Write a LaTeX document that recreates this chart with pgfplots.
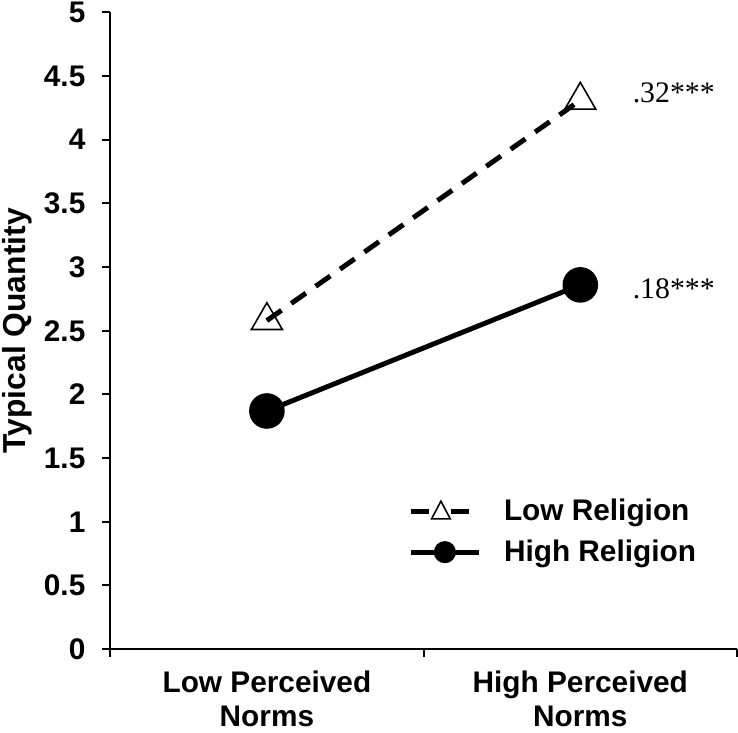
\documentclass[border=0pt]{standalone}
\usepackage{pgfplots}
\pgfplotsset{compat=1.18}
\usepackage{fontspec}
\setmainfont{Liberation Sans}
\newfontfamily\timesfont{Liberation Serif}
\begin{document}
\begin{tikzpicture}
\begin{axis}[
  scale only axis, width=315.5pt, height=320.5pt,
  xmin=0, xmax=2, ymin=0, ymax=5,
  axis lines*=left,
  axis line style={line width=1pt},
  tick align=outside, major tick length=4pt,
  tick style={line width=1pt, black},
  xtick={0,1,2}, xticklabels={},
  extra x ticks={0.5,1.5},
  extra x tick labels={Low Perceived\\Norms, High Perceived\\Norms},
  extra x tick style={major tick length=0pt},
  xticklabel style={align=center, font=\fontsize{15}{17}\selectfont\bfseries, inner xsep=0pt, inner ysep=3pt, yshift=-8pt},
  ytick={0,0.5,1,1.5,2,2.5,3,3.5,4,4.5,5},
  yticklabel style={font=\fontsize{15}{17}\selectfont\bfseries, inner sep=1pt, xshift=-7.3pt},
  /pgf/number format/assume math mode=true,
  ylabel={Typical Quantity},
  ylabel style={font=\fontsize{16}{18}\selectfont\bfseries, inner ysep=1pt},
  ylabel shift=4pt,
  clip=false,
  legend style={at={(0.4755,0.242)}, anchor=north west, draw=none, fill=none,
    font=\fontsize{15}{18}\selectfont\bfseries, row sep=4pt, inner sep=0pt},
  legend cell align=left,
]
\addplot[black, line width=2.5pt, dash pattern=on 9pt off 6pt,
  mark=triangle, mark size=9pt, mark options={solid, line width=0.8pt, fill=none},
  legend image code/.code={
    \draw[line width=2.5pt] (0pt,0pt)--(10.5pt,0pt) (20pt,0pt)--(29.5pt,0pt);
    \draw[solid, line width=0.8pt, fill=white] (15pt,5.3pt)--(10.3pt,-3.6pt)--(19.7pt,-3.6pt)--cycle;
  }]
  coordinates {(0.5,2.58) (1.5,4.31)};
\addlegendentry{\hspace{9.5pt}Low Religion}
\addplot[black, line width=2.5pt, solid,
  mark=*, mark size=7.7pt,
  legend image code/.code={
    \draw[line width=2.5pt] (0pt,0pt)--(34pt,0pt);
    \fill (17pt,0pt) circle (4.3pt);
  }]
  coordinates {(0.5,1.87) (1.5,2.86)};
\addlegendentry{\hspace{9.5pt}High Religion}
\node[anchor=west, font=\fontsize{15}{17}\selectfont\timesfont] at (axis cs:1.645,4.37) {.32***};
\node[anchor=west, font=\fontsize{15}{17}\selectfont\timesfont] at (axis cs:1.645,2.83) {.18***};
\end{axis}
\end{tikzpicture}
\end{document}
